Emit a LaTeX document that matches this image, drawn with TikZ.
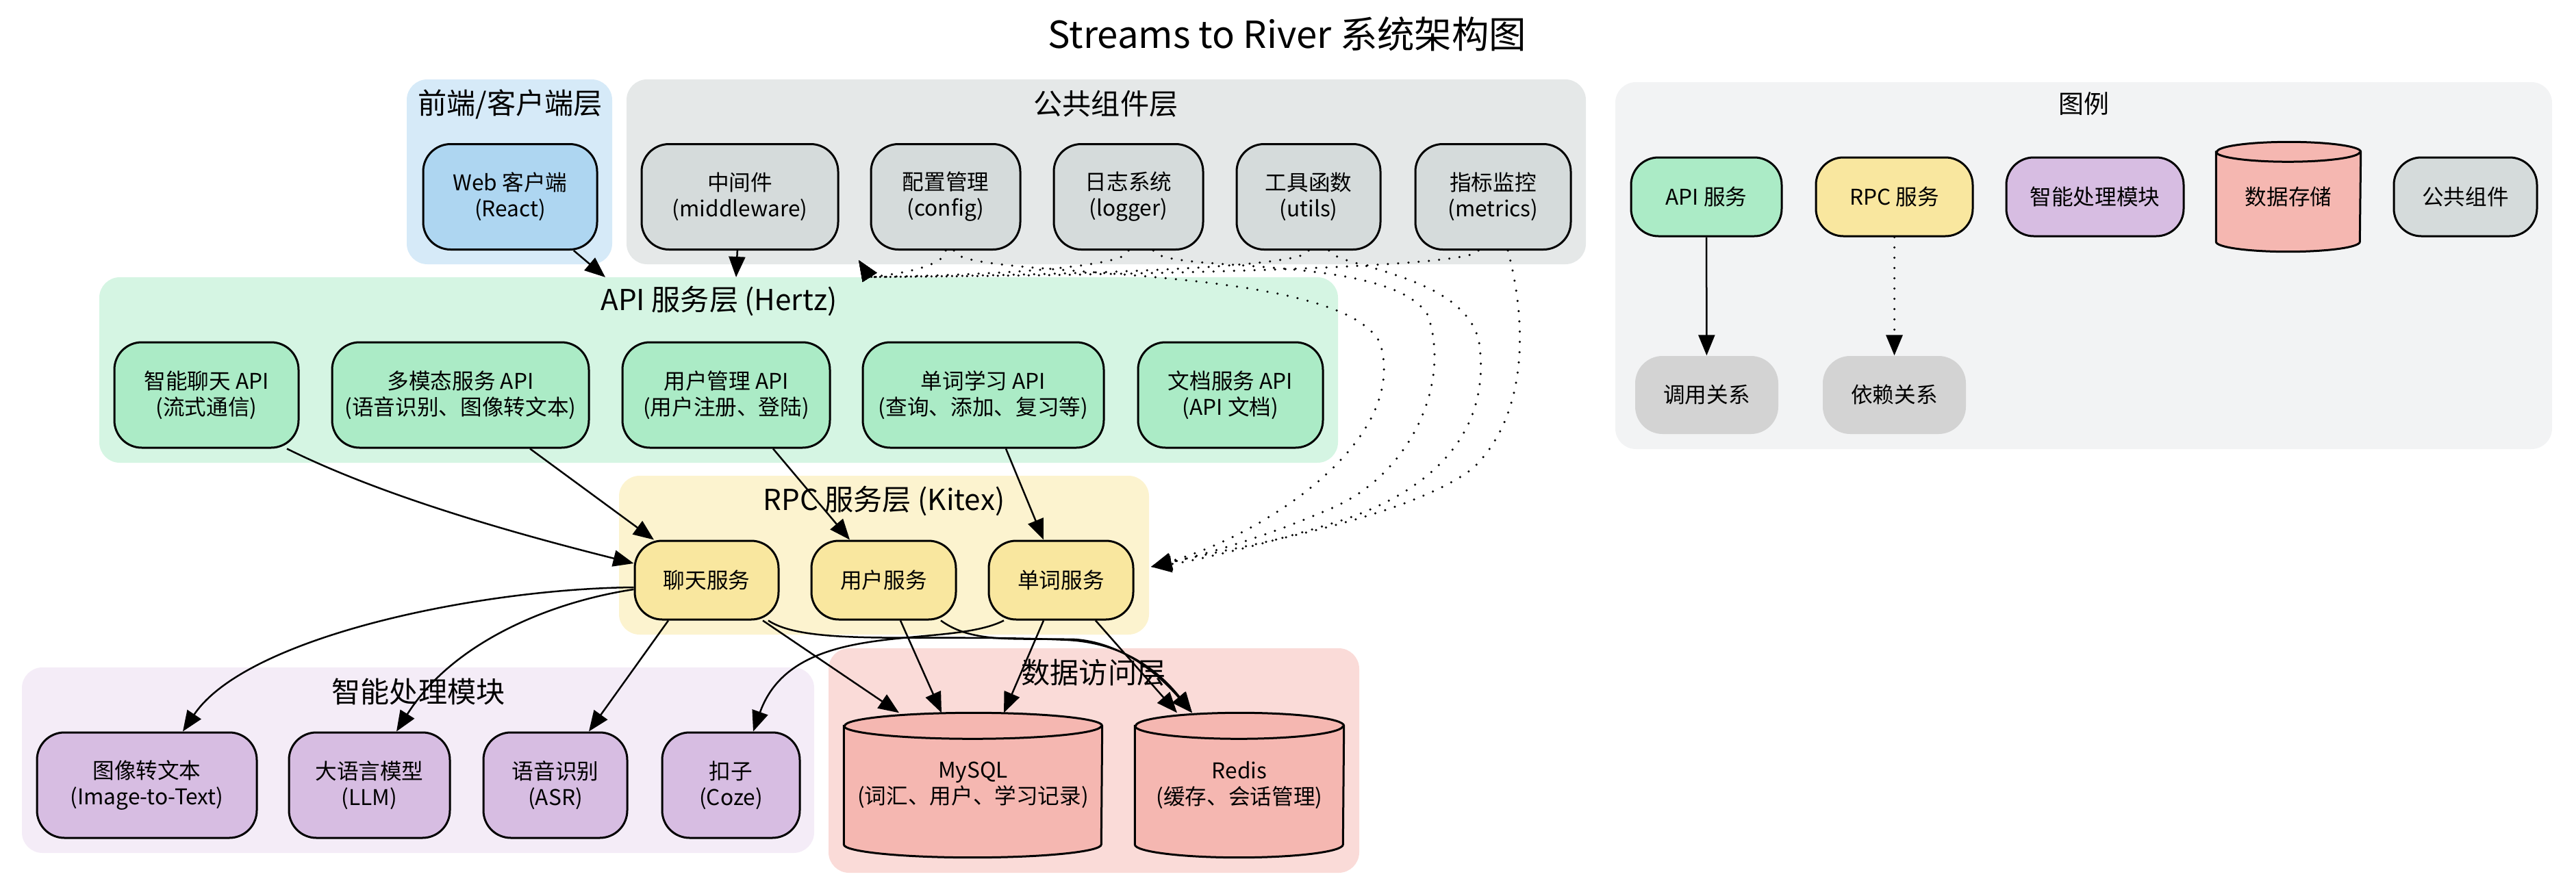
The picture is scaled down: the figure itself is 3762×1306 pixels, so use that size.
\documentclass[tikz,border=0pt]{standalone}
\usepackage{fontspec}
\setmainfont{Noto Sans CJK SC}
\usetikzlibrary{arrows.meta}

\definecolor{feZone}{HTML}{D6EAF8}
\definecolor{feNode}{HTML}{AED6F1}
\definecolor{comZone}{HTML}{E5E8E8}
\definecolor{comNode}{HTML}{D5DBDB}
\definecolor{apiZone}{HTML}{D5F5E3}
\definecolor{apiNode}{HTML}{ABEBC6}
\definecolor{rpcZone}{HTML}{FCF3CF}
\definecolor{rpcNode}{HTML}{F9E79F}
\definecolor{aiZone}{HTML}{F4ECF7}
\definecolor{aiNode}{HTML}{D7BDE2}
\definecolor{dbZone}{HTML}{FADBD8}
\definecolor{dbNode}{HTML}{F5B7B1}
\definecolor{lgZone}{HTML}{F2F3F4}
\definecolor{relNode}{HTML}{D3D3D3}

% cylinder drawn round an empty node: name, x radius, y radius (mm)
\newcommand{\dbshape}[3]{%
  \filldraw[fill=dbNode,line width=0.3mm]
    ([yshift=-#3mm]#1.north west) -- ([yshift=#3mm]#1.south west)
    arc[start angle=180,end angle=360,x radius=#2mm,y radius=#3mm]
    -- ([yshift=-#3mm]#1.north east)
    arc[start angle=0,end angle=180,x radius=#2mm,y radius=#3mm] -- cycle;
  \draw[line width=0.3mm] ([yshift=-#3mm]#1.north west)
    arc[start angle=180,end angle=360,x radius=#2mm,y radius=#3mm];
}

\begin{document}
\begin{tikzpicture}[x=0.1mm,y=-0.1mm,>={Triangle[length=3mm,width=2.4mm]},
  box/.style={draw,line width=0.3mm,rounded corners=4mm,minimum height=15.4mm,
    inner sep=0pt,align=center,font=\fontsize{9}{10.8}\selectfont},
  zone/.style={rounded corners=3mm},
  zonelbl/.style={font=\fontsize{12}{14}\selectfont},
  dbbox/.style={minimum height=21mm,inner sep=0pt},
  dbtxt/.style={align=center,font=\fontsize{9}{10.8}\selectfont},
  rel/.style={fill=relNode,rounded corners=4mm,minimum width=20.9mm,minimum height=11.4mm,
    font=\fontsize{9}{10.8}\selectfont},
  calls/.style={->,line width=0.25mm},
  dep/.style={->,line width=0.35mm,dash pattern=on 0pt off 1.5mm,line cap=round}]
  \useasboundingbox (0,0) rectangle (3762,1306);

  \node[font=\fontsize{15.5}{18}\selectfont] (title) at (1880,50) {Streams to River 系统架构图};

  % layers
  \fill[zone,fill=feZone] (594,116) rectangle (894,386);
  \fill[zone,fill=comZone] (915,116) rectangle (2316,386);
  \fill[zone,fill=apiZone] (145,405) rectangle (1954,676);
  \fill[zone,fill=rpcZone] (904,695) rectangle (1678,927);
  \fill[zone,fill=aiZone] (32,975) rectangle (1189,1246);
  \fill[zone,fill=dbZone] (1210,947) rectangle (1985,1275);
  \fill[zone,fill=lgZone] (2359,120) rectangle (3727,656);

  \node[zonelbl] (feLbl) at (745,152) {前端/客户端层};
  \node[zonelbl] (comLbl) at (1615,152) {公共组件层};
  \node[zonelbl] (apiLbl) at (1050,440) {API 服务层 (Hertz)};
  \node[zonelbl] (rpcLbl) at (1291,732) {RPC 服务层 (Kitex)};
  \node[zonelbl] (aiLbl) at (611,1010) {智能处理模块};
  \node[zonelbl] (dbLbl) at (1597,983) {数据访问层};
  \node[font=\fontsize{10.5}{12}\selectfont] (lgLbl) at (3043,152) {图例};

  % front end and common components
  \node[box,fill=feNode,minimum width=25.4mm] (web) at (745,287.5) {Web 客户端\\(React)};
  \node[box,fill=comNode,minimum width=28.7mm] (mid) at (1080.5,287.5) {中间件\\(middleware)};
  \node[box,fill=comNode,minimum width=21.8mm] (cfg) at (1381,287.5) {配置管理\\(config)};
  \node[box,fill=comNode,minimum width=21.8mm] (log) at (1648,287.5) {日志系统\\(logger)};
  \node[box,fill=comNode,minimum width=21mm] (util) at (1911,287.5) {工具函数\\(utils)};
  \node[box,fill=comNode,minimum width=22.7mm] (metric) at (2180.5,287.5) {指标监控\\(metrics)};

  % API layer
  \node[box,fill=apiNode,minimum width=26.9mm] (chatApi) at (301.5,577) {智能聊天 API\\(流式通信)};
  \node[box,fill=apiNode,minimum width=37.5mm] (mmApi) at (672.5,577) {多模态服务 API\\(语音识别、图像转文本)};
  \node[box,fill=apiNode,minimum width=30.3mm] (userApi) at (1060.5,577) {用户管理 API\\(用户注册、登陆)};
  \node[box,fill=apiNode,minimum width=35.2mm] (wordApi) at (1436,577) {单词学习 API\\(查询、添加、复习等)};
  \node[box,fill=apiNode,minimum width=27mm] (docApi) at (1797,577) {文档服务 API\\(API 文档)};

  % RPC layer
  \node[box,fill=rpcNode,minimum width=21mm,minimum height=11.5mm] (chatSvc) at (1032,847.5) {聊天服务};
  \node[box,fill=rpcNode,minimum width=21.1mm,minimum height=11.5mm] (userSvc) at (1290.5,847.5) {用户服务};
  \node[box,fill=rpcNode,minimum width=21.1mm,minimum height=11.5mm] (wordSvc) at (1549.5,847.5) {单词服务};

  % AI modules
  \node[box,fill=aiNode,minimum width=32.1mm] (img) at (214.5,1147) {图像转文本\\(Image-to-Text)};
  \node[box,fill=aiNode,minimum width=23.5mm] (llm) at (539.5,1147) {大语言模型\\(LLM)};
  \node[box,fill=aiNode,minimum width=21mm] (asr) at (811,1147) {语音识别\\(ASR)};
  \node[box,fill=aiNode,minimum width=20.1mm] (coze) at (1067.5,1147) {扣子\\(Coze)};

  % data stores
  \node[dbbox,minimum width=37.6mm] (mysql) at (1421,1147) {};
  \dbshape{mysql}{18.8}{1.9}
  \node[dbtxt] (mysqlTxt) at (mysql) {MySQL\\(词汇、用户、学习记录)};
  \node[dbbox,minimum width=30.4mm] (redis) at (1810,1147) {};
  \dbshape{redis}{15.2}{1.9}
  \node[dbtxt] (redisTxt) at (redis) {Redis\\(缓存、会话管理)};

  % legend
  \node[box,fill=apiNode,minimum width=22mm,minimum height=11.5mm] (lgApi) at (2492,287.5) {API 服务};
  \node[box,fill=rpcNode,minimum width=22.9mm,minimum height=11.5mm] (lgRpc) at (2766.5,287.5) {RPC 服务};
  \node[box,fill=aiNode,minimum width=25.9mm,minimum height=11.5mm] (lgAi) at (3059.5,287.5) {智能处理模块};
  \node[dbbox,minimum width=21mm,minimum height=15.9mm] (lgDb) at (3342,287.5) {};
  \dbshape{lgDb}{10.5}{1.45}
  \node[dbtxt] (lgDbTxt) at (lgDb) {数据存储};
  \node[box,fill=comNode,minimum width=20.9mm,minimum height=11.5mm] (lgCom) at (3600.5,287.5) {公共组件};
  \node[rel] (lgCall) at (2492.5,577) {调用关系};
  \node[rel] (lgDep) at (2766.5,577) {依赖关系};

  % calls
  \coordinate (apiA) at (884,405);
  \coordinate (apiB) at (1075,405);
  \draw[calls] (web) -- (apiA);
  \draw[calls] (mid) -- (apiB);
  \draw[calls] ([xshift=11.75mm]chatApi.south) .. controls (549,720) and (726,773) .. ([yshift=2.45mm]chatSvc.west);
  \draw[calls] ([xshift=10.15mm]mmApi.south) -- ([xshift=-7.7mm]chatSvc.north);
  \draw[calls] ([xshift=6.85mm]userApi.south) -- ([xshift=-4.95mm]userSvc.north);
  \draw[calls] ([xshift=3.3mm]wordApi.south) -- ([xshift=-2.55mm]wordSvc.north);
  \draw[calls] ([yshift=-1.05mm]chatSvc.west) .. controls (700,860) and (360,930) .. ([xshift=5.25mm]img.north);
  \draw[calls] ([yshift=-1.35mm]chatSvc.west) .. controls (800,880) and (660,940) .. ([xshift=3.95mm]llm.north);
  \draw[calls] ([xshift=-5.6mm]chatSvc.south) -- ([xshift=4.9mm]asr.north);
  \draw[calls] ([xshift=8.2mm]chatSvc.south) -- ([xshift=-10.8mm]mysql.north);
  \draw[calls] ([xshift=9mm]chatSvc.south) .. controls (1180,945) and (1350,925) .. (1560,935)
    .. controls (1650,940) and (1700,990) .. ([xshift=-6.9mm]redis.north);
  \draw[calls] ([xshift=2.45mm]userSvc.south) -- ([xshift=-4.6mm]mysql.north);
  \draw[calls] ([xshift=8.35mm]userSvc.south) .. controls (1420,940) and (1480,932) .. (1570,934)
    .. controls (1650,940) and (1705,1000) .. ([xshift=-6.9mm]redis.north);
  \draw[calls] ([xshift=-2.55mm]wordSvc.south) -- ([xshift=4.5mm]mysql.north);
  \draw[calls] ([xshift=5.05mm]wordSvc.south) -- ([xshift=-9.1mm]redis.north);
  \draw[calls] ([xshift=-8.35mm]wordSvc.south) .. controls (1380,950) and (1160,900) .. ([xshift=3.25mm]coze.north);

  % dependencies of the common components
  \coordinate (apiC) at (1254,380);
  \coordinate (rpcR) at (1681,828);
  \draw[dep] (cfg) .. controls (1381,395) and (1270,405) .. (apiC);
  \draw[dep] (log) .. controls (1648,400) and (1270,405) .. (apiC);
  \draw[dep] (util) .. controls (1911,400) and (1270,405) .. (apiC);
  \draw[dep] (metric) .. controls (2150,400) and (1270,405) .. (apiC);
  \draw[dep] (cfg) .. controls (1400,410) and (1950,380) .. (2015,500)
    .. controls (2060,640) and (1850,780) .. (rpcR);
  \draw[dep] (log) .. controls (1700,400) and (2030,370) .. (2085,460)
    .. controls (2120,560) and (2060,690) .. (1950,740) .. controls (1850,785) and (1740,815) .. (rpcR);
  \draw[dep] (util) .. controls (1950,390) and (2140,400) .. (2160,500)
    .. controls (2180,640) and (2080,720) .. (1960,760) .. controls (1850,795) and (1740,820) .. (rpcR);
  \draw[dep] (metric) .. controls (2225,450) and (2240,600) .. (2150,685)
    .. controls (2050,760) and (1800,800) .. (rpcR);

  % legend relations
  \draw[calls] (lgApi) -- (lgCall);
  \draw[dep] (lgRpc) -- (lgDep);
\end{tikzpicture}
\end{document}
